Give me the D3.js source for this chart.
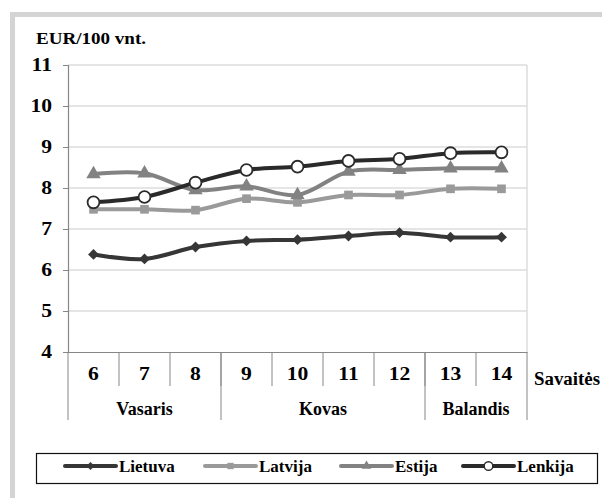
<!DOCTYPE html>
<html>
<head>
<meta charset="utf-8">
<script src="https://cdn.jsdelivr.net/npm/d3@7"></script>
<style>
  body { margin: 0; background: #fff; }
</style>
</head>
<body>
<div id="chart"></div>
<script>
// weeks and months on the x axis
var weeks = ["6", "7", "8", "9", "10", "11", "12", "13", "14"];
var monthNames = ["Vasaris", "Kovas", "Balandis"];
var monthWeeks = [3, 4, 2];
var yTicks = [4, 5, 6, 7, 8, 9, 10, 11];

// EUR/100 vnt. per week
var lietuva = [6.38, 6.27, 6.56, 6.71, 6.74, 6.83, 6.91, 6.80, 6.80];
var latvija = [7.48, 7.48, 7.46, 7.74, 7.65, 7.83, 7.83, 7.98, 7.98];
var estija  = [8.34, 8.36, 7.95, 8.04, 7.83, 8.40, 8.44, 8.48, 8.48];
var lenkija = [7.65, 7.78, 8.13, 8.44, 8.52, 8.66, 8.71, 8.85, 8.87];

var seriesNames = ["Lietuva", "Latvija", "Estija", "Lenkija"];
var seriesValues = [lietuva, latvija, estija, lenkija];
var seriesColors = ["#363636", "#9a9a9a", "#828282", "#2a2a2a"];
var seriesSymbols = [d3.symbolDiamond2, d3.symbolSquare, d3.symbolTriangle, d3.symbolCircle];

var W = 602, H = 498;
var plotL = 68, plotR = 527, plotT = 65, plotB = 352;
var FONT = "Liberation Serif";

var svg = d3.select("#chart").append("svg").attr("width", W).attr("height", H);

// outer gray frame (cropped at right and bottom)
svg.append("rect").attr("x", 12.5).attr("y", 14.5).attr("width", W + 20).attr("height", H)
  .attr("fill", "#fff").attr("stroke", "#d4d4d4").attr("stroke-width", 5);

var x = d3.scaleBand().domain(weeks).range([plotL, plotR]);
var y = d3.scaleLinear().domain([4, 11]).range([plotB, plotT]);

// gridlines
svg.append("g").selectAll("line").data(yTicks.slice(1)).join("line")
  .attr("x1", plotL).attr("x2", plotR)
  .attr("y1", function(d) { return y(d); }).attr("y2", function(d) { return y(d); })
  .attr("stroke", "#dcdcdc").attr("stroke-width", 1.5);
svg.append("line").attr("x1", plotR).attr("x2", plotR).attr("y1", plotT).attr("y2", plotB)
  .attr("stroke", "#dcdcdc").attr("stroke-width", 1.5);

// y axis
var yAxis = d3.axisLeft(y).tickValues(yTicks).tickFormat(d3.format("d")).tickSize(5).tickPadding(11);
var gy = svg.append("g").attr("transform", "translate(" + plotL + ",0)").call(yAxis);
gy.select(".domain").attr("stroke", "#868686").attr("stroke-width", 1.2);
gy.selectAll(".tick line").attr("stroke", "#868686");
gy.selectAll(".tick text").attr("fill", "#000").style("font-size", "18px");

// x axis with week dividers
var gx = svg.append("g").attr("transform", "translate(0," + plotB + ")")
  .call(d3.axisBottom(x).tickSize(0).tickPadding(15));
gx.select(".domain").attr("stroke", "#868686").attr("stroke-width", 1.2);
gx.selectAll(".tick text").attr("fill", "#000").style("font-size", "18px");

svg.append("g").selectAll("line").data(weeks.slice(1)).join("line")
  .attr("x1", function(d) { return x(d); }).attr("x2", function(d) { return x(d); })
  .attr("y1", plotB).attr("y2", plotB + 34)
  .attr("stroke", "#868686").attr("stroke-width", 1);

// month groups
var startIdx = 0;
var monthPos = monthWeeks.map(function(n) {
  var s = startIdx; startIdx += n;
  return { x0: x(weeks[s]), x1: x(weeks[s + n - 1]) + x.bandwidth() };
});
var edges = [monthPos[0].x0].concat(monthPos.map(function(m) { return m.x1; }));
svg.append("g").selectAll("line").data(edges).join("line")
  .attr("x1", function(d) { return d; }).attr("x2", function(d) { return d; })
  .attr("y1", plotB).attr("y2", plotB + 68)
  .attr("stroke", "#868686").attr("stroke-width", 1);
svg.append("g").selectAll("text").data(monthNames).join("text")
  .attr("x", function(d, i) { return (monthPos[i].x0 + monthPos[i].x1) / 2; })
  .attr("y", 415).attr("text-anchor", "middle").style("font-size", "18px")
  .text(function(d) { return d; });

svg.append("text").attr("x", 534).attr("y", 385).style("font-size", "18px")
  .attr("textLength", 66).attr("lengthAdjust", "spacingAndGlyphs").text("Savaitės");
svg.append("text").attr("x", 36).attr("y", 44).style("font-size", "16px")
  .attr("textLength", 110).attr("lengthAdjust", "spacingAndGlyphs").text("EUR/100 vnt.");

// series
var line = d3.line()
  .x(function(d, i) { return x(weeks[i]) + x.bandwidth() / 2; })
  .y(function(d) { return y(d); })
  .curve(d3.curveCatmullRom.alpha(0.5));

seriesValues.forEach(function(vals, s) {
  var g = svg.append("g");
  g.append("path").attr("d", line(vals)).attr("fill", "none")
    .attr("stroke", seriesColors[s]).attr("stroke-width", 4).attr("stroke-linejoin", "round");
  var sym = d3.symbol().type(seriesSymbols[s]).size(s == 3 ? 110 : (s == 2 ? 90 : 75));
  g.selectAll("path.m").data(vals).join("path").attr("class", "m")
    .attr("d", sym)
    .attr("transform", function(d, i) {
      return "translate(" + (x(weeks[i]) + x.bandwidth() / 2) + "," + y(d) + ")";
    })
    .attr("fill", s == 3 ? "#fff" : seriesColors[s])
    .attr("stroke", s == 3 ? seriesColors[s] : "none")
    .attr("stroke-width", 1.8);
});

// legend
svg.append("rect").attr("x", 36.5).attr("y", 453.5).attr("width", 561).attr("height", 30)
  .attr("fill", "#fff").attr("stroke", "#111").attr("stroke-width", 1.2);
var legX = [65, 205, 341, 463];
seriesNames.forEach(function(name, s) {
  var lg = svg.append("g").attr("transform", "translate(" + legX[s] + ",466)");
  lg.append("line").attr("x1", 0).attr("x2", 51).attr("stroke", seriesColors[s])
    .attr("stroke-width", 4).attr("stroke-linecap", "round");
  lg.append("path").attr("d", d3.symbol().type(seriesSymbols[s]).size(s == 3 ? 60 : 40))
    .attr("transform", "translate(25.5,0)")
    .attr("fill", s == 3 ? "#fff" : seriesColors[s])
    .attr("stroke", s == 3 ? seriesColors[s] : "none").attr("stroke-width", 1.5);
  lg.append("text").attr("x", 54).attr("y", 5.5).style("font-size", "17px").text(name);
});

// every text in Times-like bold serif
svg.selectAll("text").style("font-family", FONT).style("font-weight", "bold");

// the reference digits are a bit wider than Times
svg.selectAll(".tick text").each(function() {
  var w = this.getComputedTextLength();
  d3.select(this).attr("textLength", w * 1.2).attr("lengthAdjust", "spacingAndGlyphs");
});
</script>
</body>
</html>
